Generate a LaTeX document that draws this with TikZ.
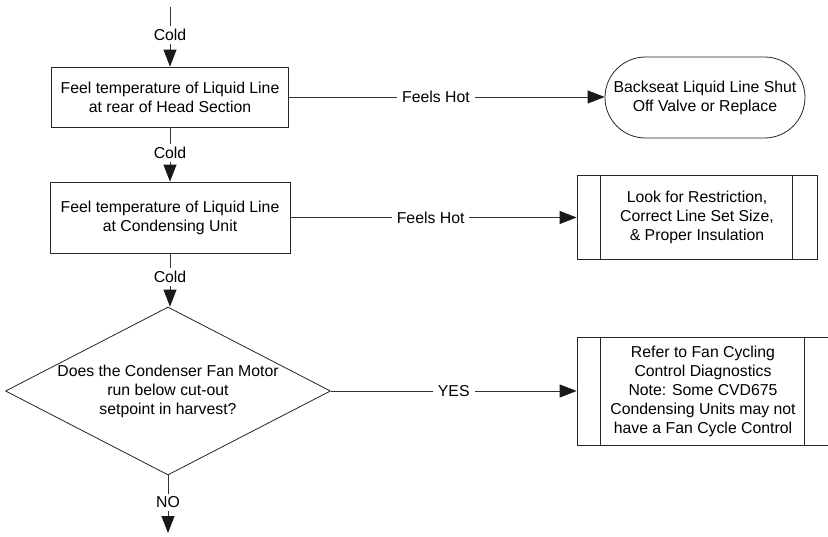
\documentclass[tikz,border=0pt]{standalone}
\usepackage{fontspec}
\setmainfont{Liberation Sans}
\usetikzlibrary{arrows.meta,shapes.geometric,shapes.misc}
\begin{document}
\begin{tikzpicture}[x=1pt,y=-1pt,
  every node/.style={font=\fontsize{15.8}{19}\selectfont},
  box/.style={draw=black!85, line width=0.8pt, rectangle, inner sep=0pt, align=center},
  term/.style={draw=black!85, line width=0.8pt, rounded rectangle, inner sep=0pt, align=center},
  conn/.style={draw=black!80, line width=0.8pt},
  arr/.style={conn, -{Triangle[width=13pt,length=17pt,color=black!90,fill=black!90]}},
  lbl/.style={fill=white, inner xsep=5pt, inner ysep=3pt}
]
\clip (0,0) rectangle (828,536);
\fill[white] (0,0) rectangle (828,536);

\coordinate (start) at (170,7);
\node[box, minimum width=237pt, minimum height=60pt] (b1) at (170,97)
  {Feel temperature of Liquid Line\\at rear of Head Section};
\node[box, minimum width=240pt, minimum height=71pt] (b2) at (170,217.5)
  {Feel temperature of Liquid Line\\at Condensing Unit};
\node[diamond, draw=black!85, line width=0.8pt, minimum width=325pt, minimum height=168pt, inner sep=0pt] (d) at (168,391) {};
\node[align=center] (dt) at (168,391.5) {Does the Condenser Fan Motor\\run below cut-out\\setpoint in harvest?};
\coordinate (end) at (168,533);

\node[term, minimum width=200pt, minimum height=81pt] (t) at (705,97.5)
  {Backseat Liquid Line Shut\\Off Valve or Replace};
\node[box, minimum width=240pt, minimum height=84pt] (b3) at (697,217)
  {Look for Restriction,\\Correct Line Set Size,\\\& Proper Insulation};
\node[box, minimum width=258pt, minimum height=108pt] (b4) at (706,391) {};
\node[align=center] (b4t) at (703,391)
  {Refer to Fan Cycling\\Control Diagnostics\\Note: Some CVD675\\Condensing Units may not\\have a Fan Cycle Control};

% inner lines of predefined process boxes
\draw[conn, draw=black!85] ([xshift=24pt]b3.north west) -- ([xshift=24pt]b3.south west);
\draw[conn, draw=black!85] ([xshift=-25pt]b3.north east) -- ([xshift=-25pt]b3.south east);
\draw[conn, draw=black!85] ([xshift=24pt]b4.north west) -- ([xshift=24pt]b4.south west);
\draw[conn, draw=black!85] ([xshift=-31pt]b4.north east) -- ([xshift=-31pt]b4.south east);

% vertical connectors
\draw[arr] (start) -- node[lbl, pos=0.47] {Cold} (start |- b1.north);
\draw[arr] (b1.south) -- node[lbl, pos=0.47] {Cold} (b1.south |- b2.north);
\draw[arr] (b2.south) -- node[lbl, pos=0.44] {Cold} (b2.south |- d.north);
\draw[arr] (d.south) -- node[lbl, pos=0.47] {NO} (end);

% horizontal connectors
\draw[arr] (b1.east) -- node[lbl, pos=0.466] {Feels Hot} (b1.east -| t.west);
\draw[arr] (b2.east) -- node[lbl, pos=0.49] {Feels Hot} (b2.east -| b3.west);
\draw[arr] (d.east) -- node[lbl, pos=0.5] {YES} (d.east -| b4.west);
\end{tikzpicture}
\end{document}
